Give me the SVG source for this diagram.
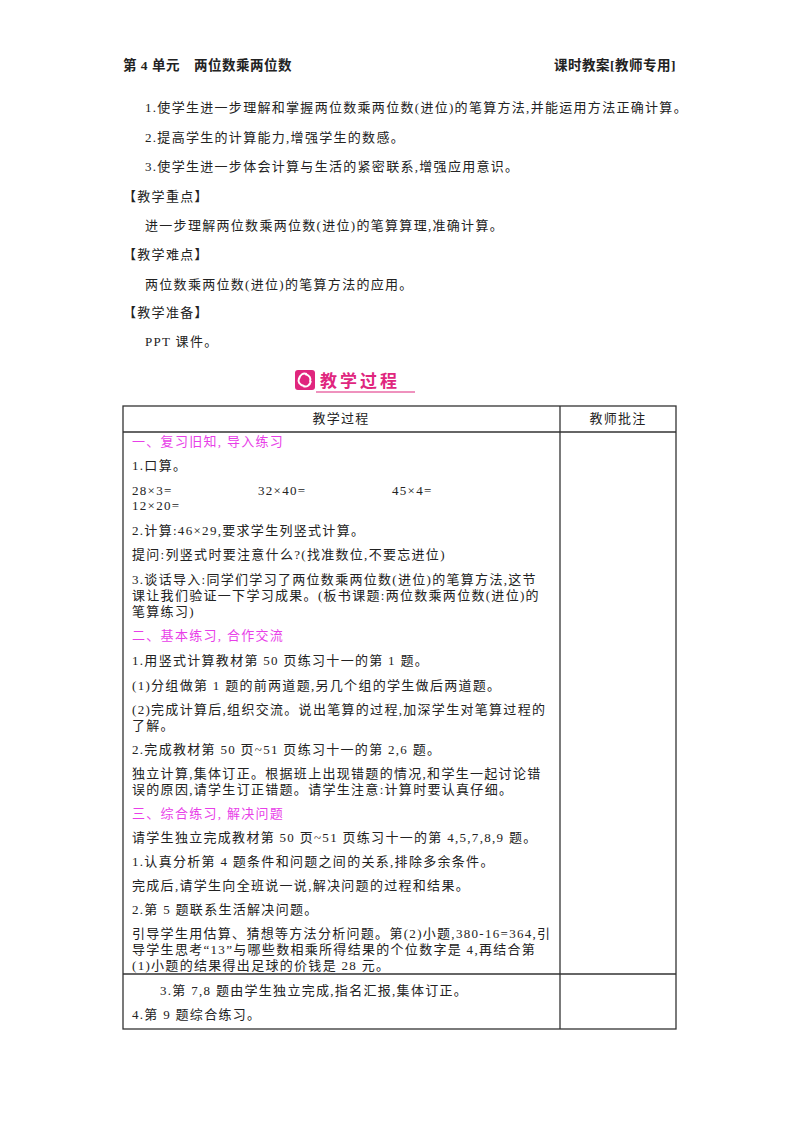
<svg xmlns="http://www.w3.org/2000/svg" width="800" height="1132" viewBox="0 0 800 1132">
<style>
text{font-family:"Liberation Serif","Noto Sans CJK SC",serif;font-size:13px;fill:#222;letter-spacing:1.3px}
.h{font-weight:bold;font-size:13.5px;letter-spacing:0.5px}
.m{fill:#e83ee8}
.ln{stroke:#333;stroke-width:1.3;fill:none}
</style>
<rect width="800" height="1132" fill="#fff"/>
<g id="header">
<text class="h" x="123" y="70">第 4 单元　两位数乘两位数</text>
<text class="h" x="676" y="70" text-anchor="end">课时教案[教师专用]</text>
</g>
<g id="intro">
<text x="145" y="112">1.使学生进一步理解和掌握两位数乘两位数(进位)的笔算方法,并能运用方法正确计算。</text>
<text x="145" y="142">2.提高学生的计算能力,增强学生的数感。</text>
<text x="145" y="171">3.使学生进一步体会计算与生活的紧密联系,增强应用意识。</text>
<text x="123" y="201">【教学重点】</text>
<text x="145" y="230">进一步理解两位数乘两位数(进位)的笔算算理,准确计算。</text>
<text x="123" y="259">【教学难点】</text>
<text x="145" y="289">两位数乘两位数(进位)的笔算方法的应用。</text>
<text x="123" y="317">【教学准备】</text>
<text x="145" y="346">PPT 课件。</text>
</g>
<g id="logo">
<rect x="295" y="370" width="20" height="20" rx="3" fill="#e0267e"/>
<path d="M305 374 q7 2 5 8 M311 381 q-2 7 -8 5 M304 386 q-7 -2 -5 -8 M299 379 q2 -7 8 -5" stroke="#fff" stroke-width="2" fill="none"/>
<text x="320" y="387" style="font-family:'Noto Sans CJK SC',sans-serif;font-size:17px;font-weight:bold;fill:#e0267e;letter-spacing:3px">教学过程</text>
<line x1="316" y1="392" x2="415" y2="392" stroke="#e0267e" stroke-width="1.2"/>
</g>
<g id="table">
<rect class="ln" x="123" y="406" width="553" height="623"/>
<line class="ln" x1="560" y1="406" x2="560" y2="1029"/>
<line class="ln" x1="123" y1="432" x2="676" y2="432"/>
<line class="ln" x1="123" y1="974" x2="676" y2="974"/>
<text x="341" y="423" text-anchor="middle">教学过程</text>
<text x="618" y="423" text-anchor="middle">教师批注</text>
</g>
<g id="content">
<text class="m" x="132" y="446">一、复习旧知, 导入练习</text>
<text x="132" y="470">1.口算。</text>
<text x="132" y="495">28×3=</text><text x="258" y="495">32×40=</text><text x="392" y="495">45×4=</text>
<text x="132" y="510">12×20=</text>
<text x="132" y="535">2.计算:46×29,要求学生列竖式计算。</text>
<text x="132" y="559">提问:列竖式时要注意什么?(找准数位,不要忘进位)</text>
<text x="132" y="584">3.谈话导入:同学们学习了两位数乘两位数(进位)的笔算方法,这节</text>
<text x="132" y="600">课让我们验证一下学习成果。(板书课题:两位数乘两位数(进位)的</text>
<text x="132" y="616">笔算练习)</text>
<text class="m" x="132" y="640">二、基本练习, 合作交流</text>
<text x="132" y="665">1.用竖式计算教材第 50 页练习十一的第 1 题。</text>
<text x="132" y="690">(1)分组做第 1 题的前两道题,另几个组的学生做后两道题。</text>
<text x="132" y="714">(2)完成计算后,组织交流。说出笔算的过程,加深学生对笔算过程的</text>
<text x="132" y="730">了解。</text>
<text x="132" y="754">2.完成教材第 50 页~51 页练习十一的第 2,6 题。</text>
<text x="132" y="778">独立计算,集体订正。根据班上出现错题的情况,和学生一起讨论错</text>
<text x="132" y="794">误的原因,请学生订正错题。请学生注意:计算时要认真仔细。</text>
<text class="m" x="132" y="818">三、综合练习, 解决问题</text>
<text x="132" y="842">请学生独立完成教材第 50 页~51 页练习十一的第 4,5,7,8,9 题。</text>
<text x="132" y="866">1.认真分析第 4 题条件和问题之间的关系,排除多余条件。</text>
<text x="132" y="890">完成后,请学生向全班说一说,解决问题的过程和结果。</text>
<text x="132" y="914">2.第 5 题联系生活解决问题。</text>
<text x="132" y="938">引导学生用估算、猜想等方法分析问题。第(2)小题,380-16=364,引</text>
<text x="132" y="954">导学生思考“13”与哪些数相乘所得结果的个位数字是 4,再结合第</text>
<text x="132" y="970">(1)小题的结果得出足球的价钱是 28 元。</text>
<text x="160" y="995">3.第 7,8 题由学生独立完成,指名汇报,集体订正。</text>
<text x="132" y="1019">4.第 9 题综合练习。</text>
</g>
</svg>
